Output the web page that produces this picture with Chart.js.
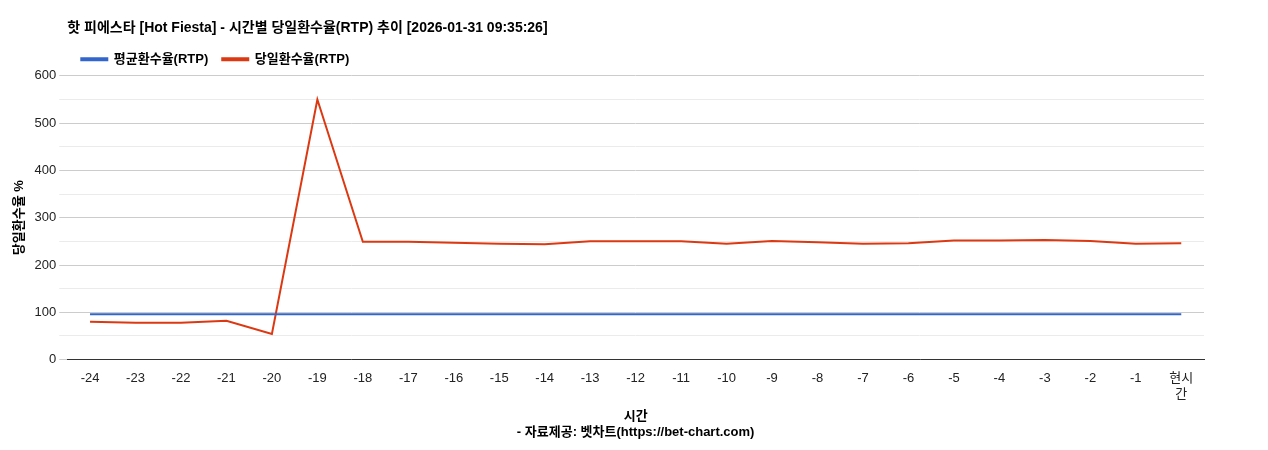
<!DOCTYPE html>
<html><head><meta charset="utf-8">
<script src="https://cdn.jsdelivr.net/npm/chart.js@4"></script>
<style>html,body{margin:0;background:#fff}#wrap{width:1268px;height:450px}</style>
</head><body><div id="wrap"><canvas id="c"></canvas></div>
<script>
"use strict";
const labels = ["-24","-23","-22","-21","-20","-19","-18","-17","-16","-15","-14","-13","-12","-11","-10","-9","-8","-7","-6","-5","-4","-3","-2","-1",["현시","간"]];
const avgRtp = [96,96,96,96,96,96,96,96,96,96,96,96,96,96,96,96,96,96,96,96,96,96,96,96,96];
const dayRtp = [80,78,78,82,54,550,249,249,247,245,244,250,250,250,245,251,248,245,246,252,252,253,251,245,246];
const font = "'Liberation Sans', 'Noto Sans CJK KR', sans-serif";
Chart.defaults.font.family = font;
Chart.defaults.color = "#222";

// shift title and legend so they start at the plot's left edge
const alignHeader = {
  id: "alignHeader",
  afterLayout(chart) {
    const dx = chart.chartArea.left - chart.titleBlock.left;
    chart.titleBlock.left += dx;
    chart.titleBlock.right += dx;
    chart.legend.left += dx;
    chart.legend.right += dx;
    chart.legend.adjustHitBoxes();
  }
};

new Chart(document.getElementById("c").getContext("2d"), {
  type: "line",
  data: { labels, datasets: [
    { label: "평균환수율(RTP)", data: avgRtp, borderColor: "#3366cc", backgroundColor: "#3366cc", borderWidth: 2, pointRadius: 0, tension: 0 },
    { label: "당일환수율(RTP)", data: dayRtp, borderColor: "#dc3912", backgroundColor: "#dc3912", borderWidth: 2, pointRadius: 0, tension: 0 }
  ]},
  options: {
    responsive: true, maintainAspectRatio: false, animation: false,
    layout: { padding: { left: 8, right: 64, top: 20, bottom: 6 } },
    plugins: {
      title: { display: true, align: "start", text: "핫 피에스타 [Hot Fiesta] - 시간별 당일환수율(RTP) 추이 [2026-01-31 09:35:26]", font: { size: 14, weight: "bold" }, color: "#000", padding: { top: 0, bottom: 2 } },
      legend: { align: "start", labels: { boxWidth: 26, boxHeight: 2, font: { size: 13, weight: "bold" }, color: "#000", padding: 14 } },
      tooltip: { enabled: false }
    },
    scales: {
      x: {
        offset: true,
        grid: { display: false }, border: { color: "#333" },
        ticks: { maxRotation: 0, autoSkip: false, font: { size: 13 }, color: "#222" },
        title: { display: true, text: ["시간", "- 자료제공: 벳차트(https://bet-chart.com)"], font: { size: 13, weight: "bold" }, color: "#000", padding: { top: 4 } }
      },
      y: {
        min: 0, max: 600,
        border: { display: false },
        grid: { color: ctx => ctx.tick && ctx.tick.value % 100 === 0 ? "#cccccc" : "#ebebeb" },
        ticks: { stepSize: 50, font: { size: 13 }, color: "#222", callback: v => v % 100 === 0 ? v : "" },
        title: { display: true, text: "당일환수율 %", font: { size: 13, weight: "bold" }, color: "#000" }
      }
    }
  },
  plugins: [alignHeader]
});
</script></body></html>
